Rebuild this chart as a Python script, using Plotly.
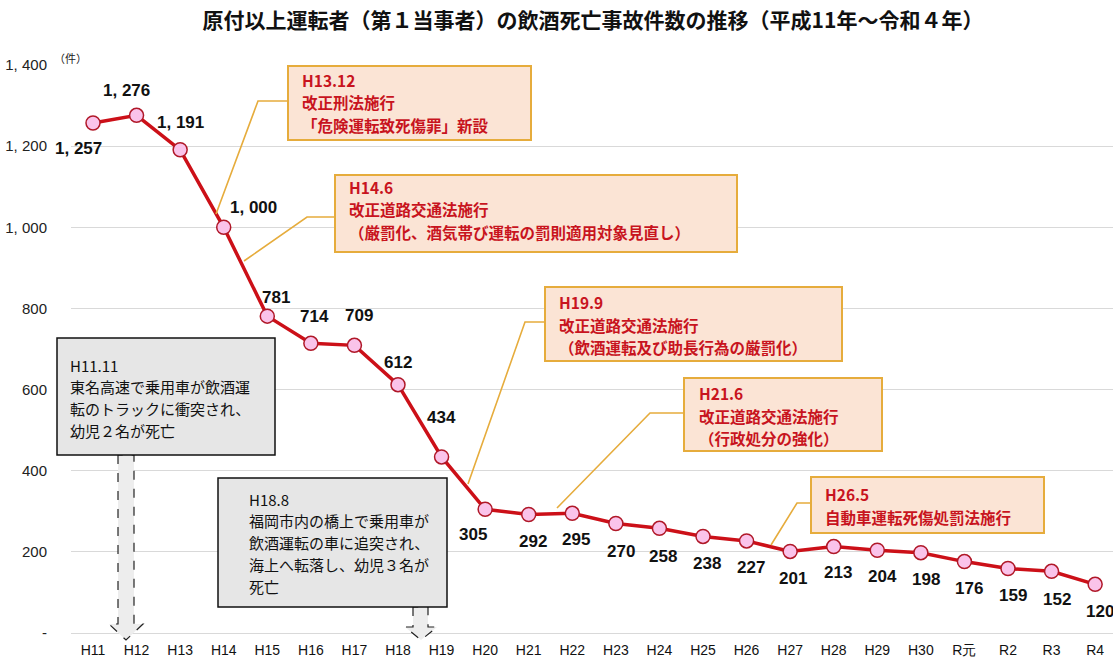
import plotly.graph_objects as go

# ---------------- data ----------------
years = ["H11", "H12", "H13", "H14", "H15", "H16", "H17", "H18", "H19", "H20",
         "H21", "H22", "H23", "H24", "H25", "H26", "H27", "H28", "H29", "H30",
         "R元", "R2", "R3", "R4"]
counts = [1257, 1276, 1191, 1000, 781, 714, 709, 612, 434, 305,
          292, 295, 270, 258, 238, 227, 201, 213, 204, 198,
          176, 159, 152, 120]
y_tick_vals = [0, 200, 400, 600, 800, 1000, 1200, 1400]
y_tick_text = ["-", "200", "400", "600", "800", "1, 000", "1, 200", "1, 400"]

title_text = "原付以上運転者（第１当事者）の飲酒死亡事故件数の推移（平成11年～令和４年）"

law_notes = [
    ["H13.12", "改正刑法施行", "「危険運転致死傷罪」新設"],
    ["H14.6", "改正道路交通法施行", "（厳罰化、酒気帯び運転の罰則適用対象見直し）"],
    ["H19.9", "改正道路交通法施行", "（飲酒運転及び助長行為の厳罰化）"],
    ["H21.6", "改正道路交通法施行", "（行政処分の強化）"],
    ["H26.5", "自動車運転死傷処罰法施行"],
]
incident_notes = [
    ["H11.11", "東名高速で乗用車が飲酒運", "転のトラックに衝突され、", "幼児２名が死亡"],
    ["H18.8", "福岡市内の橋上で乗用車が", "飲酒運転の車に追突され、", "海上へ転落し、幼児３名が", "死亡"],
]

# ---------------- layout / style (pixels) ----------------
W, H = 1113, 657
L, R, T, B = 71, 1113, 65, 640


def px(x):
    return (x - L) / (R - L)


def py(y):
    return (B - y) / (B - T)


# label offsets (dx, dy) in pixels, screen-down positive
label_offsets = [(-15, 25), (-10, -25), (0, -27), (30, -20), (9, -19), (4, -27),
                 (5, -30), (0, -22), (0, -39), (-12, 25), (4, 27), (4, 26),
                 (5, 28), (4, 28), (4, 27), (4, 27), (3, 27), (4, 26),
                 (5, 26), (5, 27), (5, 27), (5, 27), (5, 28), (5, 27)]

# orange boxes: rect (x0, y0, x1, y1), text x, first line y, line step, connector points
law_layout = [
    dict(rect=(288, 66, 531, 140), tx=300, y0=80, step=22.5,
         conn=[(216, 214), (258, 101), (288, 101)]),
    dict(rect=(335, 175, 737, 252), tx=347, y0=187, step=22.5,
         conn=[(244, 261), (307, 217), (335, 217)]),
    dict(rect=(545, 287, 842, 361), tx=557, y0=302, step=22.5,
         conn=[(468, 484), (525, 322), (545, 322)]),
    dict(rect=(684, 378, 882, 451), tx=697, y0=393, step=22.5,
         conn=[(557, 508), (650, 413), (684, 413)]),
    dict(rect=(811, 477, 1044, 533), tx=823, y0=494, step=22.5,
         conn=[(771, 545), (797, 503), (811, 503)]),
]
incident_layout = [
    dict(rect=(57, 338, 275, 455), tx=68, y0=365, step=21.8,
         arrow=dict(x0=118, x1=134, w0=109, w1=143, tip=126, top=455, neck=624, end=640)),
    dict(rect=(218, 478, 447, 607), tx=247, y0=499, step=21.8,
         arrow=dict(x0=413, x1=428, w0=405, w1=437, tip=421, top=607, neck=627, end=640)),
]

LAT = "Liberation Sans, Arial, sans-serif"
JP = "Noto Sans CJK JP, sans-serif"
RED_TXT = "#C8141E"
ORANGE_FILL = "#FBE4D5"
ORANGE_LINE = "#E6AC3C"
GRAY_FILL = "#E6E6E6"


def fmt(v):
    s = f"{v:,}"
    return s.replace(",", ", ")


fig = go.Figure()
fig.add_trace(go.Scatter(
    x=years, y=counts, mode="lines+markers",
    line=dict(color="#CC1018", width=3.5),
    marker=dict(size=14, color="#FAC3EA", line=dict(color="#B01828", width=1.5)),
    cliponaxis=False, hoverinfo="skip", showlegend=False,
))

annotations = []
for i, (yr, v) in enumerate(zip(years, counts)):
    dx, dy = label_offsets[i]
    annotations.append(dict(
        x=yr, y=v, xref="x", yref="y", text=f"<b>{fmt(v)}</b>", showarrow=False,
        xshift=dx, yshift=-dy, font=dict(family=LAT, size=17, color="#111111"),
        xanchor="center", yanchor="middle"))

shapes = []
# incident boxes with dashed arrows
for note, lay in zip(incident_notes, incident_layout):
    a = lay["arrow"]
    pts = [(a["x0"], a["top"]), (a["x0"], a["neck"]), (a["w0"], a["neck"]), (a["tip"], a["end"]),
           (a["w1"], a["neck"]), (a["x1"], a["neck"]), (a["x1"], a["top"])]
    path = "M " + " L ".join(f"{px(x):.5f},{py(y):.5f}" for x, y in pts) + " Z"
    shapes.append(dict(type="path", xref="paper", yref="paper", path=path,
                       fillcolor="#EDEDED", line=dict(color="#222222", width=1.2, dash="dash")))
    x0, y0, x1, y1 = lay["rect"]
    shapes.append(dict(type="rect", xref="paper", yref="paper",
                       x0=px(x0), x1=px(x1), y0=py(y1), y1=py(y0),
                       fillcolor=GRAY_FILL, line=dict(color="#111111", width=1.5)))
    for k, line_txt in enumerate(note):
        annotations.append(dict(x=px(lay["tx"]), y=py(lay["y0"] + k * lay["step"]),
                                xref="paper", yref="paper", text=line_txt, showarrow=False,
                                xanchor="left", yanchor="middle",
                                font=dict(family=JP, size=15, color="#111111")))

# law boxes with connectors
for note, lay in zip(law_notes, law_layout):
    path = "M " + " L ".join(f"{px(x):.5f},{py(y):.5f}" for x, y in lay["conn"])
    shapes.append(dict(type="path", xref="paper", yref="paper", path=path,
                       line=dict(color=ORANGE_LINE, width=1.6)))
    x0, y0, x1, y1 = lay["rect"]
    shapes.append(dict(type="rect", xref="paper", yref="paper",
                       x0=px(x0), x1=px(x1), y0=py(y1), y1=py(y0),
                       fillcolor=ORANGE_FILL, line=dict(color=ORANGE_LINE, width=2)))
    for k, line_txt in enumerate(note):
        annotations.append(dict(x=px(lay["tx"]), y=py(lay["y0"] + k * lay["step"]),
                                xref="paper", yref="paper", text=f"<b>{line_txt}</b>",
                                showarrow=False, xanchor="left", yanchor="middle",
                                font=dict(family=JP, size=15.5, color=RED_TXT)))

# unit label
annotations.append(dict(x=px(70), y=py(58), xref="paper", yref="paper", text="（件）",
                        showarrow=False, xanchor="center", yanchor="middle",
                        font=dict(family=JP, size=11, color="#222222")))

fig.update_layout(
    width=W, height=H,
    margin=dict(l=L, r=W - R, t=T, b=H - B, pad=0),
    paper_bgcolor="white", plot_bgcolor="white",
    title=dict(text=f"<b>{title_text}</b>", x=593 / W, xanchor="center",
               y=1 - 21 / H, yanchor="middle",
               font=dict(family=JP, size=21, color="#111111")),
    xaxis=dict(type="category", range=[-0.505, 23.41], showgrid=False, showline=False,
               zeroline=False, ticks="", tickfont=dict(family=LAT, size=14, color="#111111")),
    yaxis=dict(range=[-17.25, 1400], tickvals=y_tick_vals, ticktext=y_tick_text,
               showgrid=True, gridcolor="#D9D9D9", gridwidth=1, zeroline=False, showline=False,
               ticks="outside", ticklen=20, tickcolor="rgba(0,0,0,0)",
               tickfont=dict(family=LAT, size=15, color="#222222")),
    shapes=shapes, annotations=annotations, showlegend=False,
)

fig.write_html("out.html", config={"displayModeBar": False},
               post_script="document.body.style.margin='0';document.body.style.overflow='hidden';")
